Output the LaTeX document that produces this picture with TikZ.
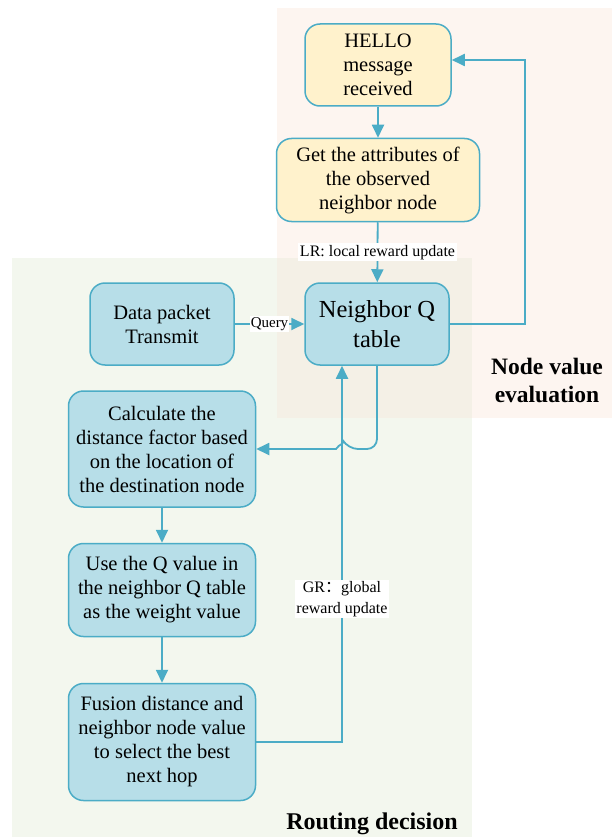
\documentclass[tikz,border=0pt]{standalone}
\usepackage{fontspec}
\setmainfont{Liberation Serif}
\newfontfamily\cjk{Noto Sans CJK SC}
\usetikzlibrary{arrows.meta}
\definecolor{edgeblue}{HTML}{4BACC6}
\definecolor{boxblue}{HTML}{B7DEE8}
\definecolor{boxyellow}{HTML}{FFF2CC}
\definecolor{evalbg}{HTML}{FDF5F0}
\definecolor{routebg}{HTML}{F3F7EE}
\definecolor{bothbg}{HTML}{F4F0E6}

\begin{document}
\begin{tikzpicture}[x=1pt, y=-1pt,
    blockbox/.style={draw=edgeblue, line width=1.5pt, rounded corners=15pt, align=center,
      inner sep=0pt, font=\fontsize{20.5}{24}\selectfont},
    bluebox/.style={blockbox, fill=boxblue},
    yellowbox/.style={blockbox, fill=boxyellow},
    flow/.style={draw=edgeblue, line width=1.8pt, -{Triangle[length=13pt,width=12pt]}},
    tag/.style={fill=white, inner sep=1.5pt, align=center, font=\fontsize{16}{21}\selectfont}]
    \useasboundingbox (0,0) rectangle (612,837);
    % background areas
    \fill[evalbg] (277,8) rectangle (612,418);
    \fill[routebg] (12,258) rectangle (472,837);
    \fill[bothbg] (277,258) rectangle (472,418);
    \node[font=\bfseries\fontsize{23.5}{28}\selectfont, align=center] (evaltitle) at (547,380) {Node value\\evaluation};
    \node[font=\bfseries\fontsize{24}{26}\selectfont] (routetitle) at (372,824) {Routing decision};
    % boxes
    \node[yellowbox, minimum width=146pt, minimum height=82pt] (hello) at (378,65) {HELLO\\message\\received};
    \node[yellowbox, minimum width=203pt, minimum height=83pt] (attr) at (378,180) {Get the attributes of\\the observed\\neighbor node};
    \node[bluebox, minimum width=144pt, minimum height=82pt, font=\fontsize{24.5}{30}\selectfont] (qtab) at (377,324) {Neighbor Q\\table};
    \node[bluebox, minimum width=144pt, minimum height=82pt] (packet) at (162,324) {Data packet\\Transmit};
    \node[bluebox, minimum width=187pt, minimum height=116pt] (dist) at (162,449) {Calculate the\\distance factor based\\on the location of\\the destination node};
    \node[bluebox, minimum width=187pt, minimum height=93pt] (weight) at (162,590) {Use the Q value in\\the neighbor Q table\\as the weight value};
    \node[bluebox, minimum width=187pt, minimum height=117pt] (fusion) at (162,742) {Fusion distance and\\neighbor node value\\to select the best\\next hop};
    \coordinate (loopup) at (525,60);
    % connectors
    \draw[flow] (hello) -- (attr);
    \draw[flow] (attr) -- node[tag] {LR: local reward update} (qtab);
    \draw[flow] (packet) -- node[tag, inner sep=1pt, font=\fontsize{15}{16}\selectfont] {Query} (qtab);
    \draw[flow] (qtab.east) -| (loopup) -- ([yshift=5pt]hello.east);
    \draw[flow] (qtab.south) [rounded corners=10pt] -- (377,449) -- (348,449) [sharp corners]
      .. controls (345,444) and (339,444) .. (336,449) -- (dist.east);
    \draw[flow] (weight) -- (fusion);
    \draw[flow] (dist) -- (weight);
    \draw[flow] (fusion.east) -| node[tag, pos=0.69] {GR{\cjk ：}global\\reward update} ([xshift=-35pt]qtab.south);
\end{tikzpicture}
\end{document}
